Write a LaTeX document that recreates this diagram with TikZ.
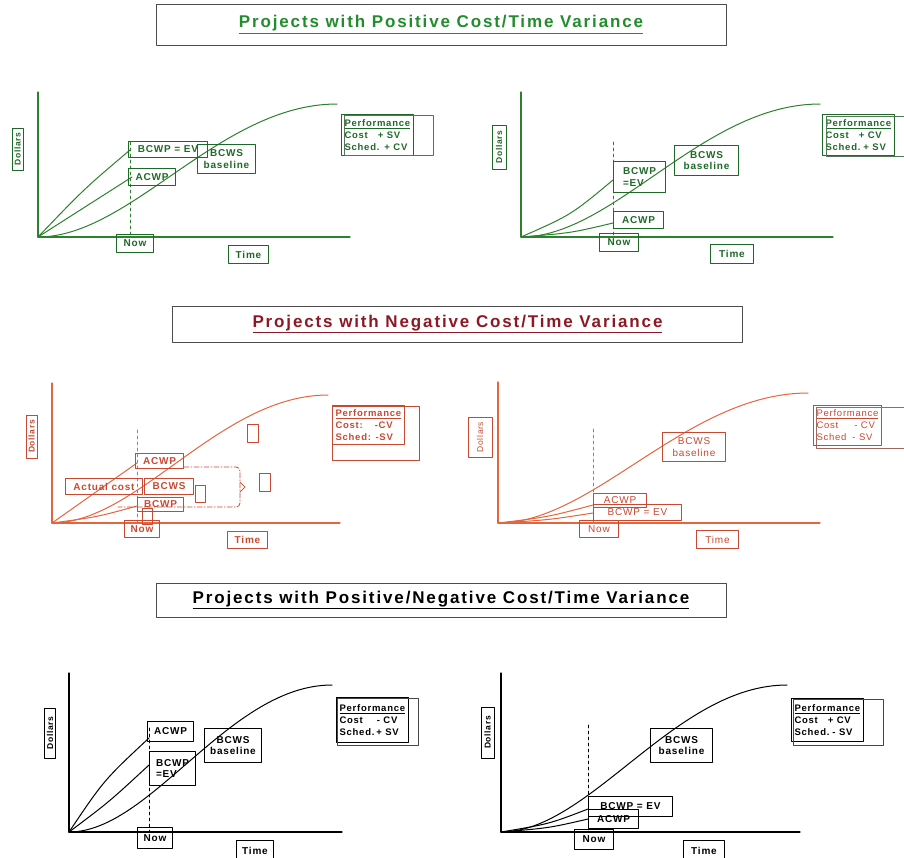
\documentclass[tikz,border=0pt]{standalone}
\usepackage{fontspec}
\setmainfont{Liberation Sans}
\newfontfamily\lblfont[LetterSpace=8]{Liberation Sans}
\newfontfamily\ttlfont[LetterSpace=11]{Liberation Sans}
\definecolor{grn}{RGB}{45,128,45}
\definecolor{grnb}{RGB}{30,105,40}
\definecolor{grnt}{RGB}{35,140,45}
\definecolor{org}{RGB}{228,100,60}
\definecolor{orgb}{RGB}{200,72,50}
\definecolor{redt}{RGB}{140,25,35}
\def\lblwt{\bfseries}
\tikzset{
	ax/.style={draw=ln, line width=1.2pt},
	crv/.style={draw=ln, line width=1pt},
	nowln/.style={draw=ln, dashed, line width=0.8pt},
	lbl/.style={draw=bx, line width=1pt, text=bx, inner sep=0pt, anchor=north west, font=\lblfont\lblwt\fontsize{10}{11.5}\selectfont},
	dol/.style={lbl, anchor=center, rotate=90, font=\lblfont\lblwt\fontsize{8.5}{9}\selectfont},
	perf/.style={lbl, align=left, inner xsep=3pt, font=\lblfont\lblwt\fontsize{9.5}{12}\selectfont},
	shd/.style={draw=bx!45!gray, line width=0.8pt},
	ttl/.style={draw=black!70, line width=1pt, minimum width=570, font=\ttlfont\bfseries\fontsize{17}{20}\selectfont},
	gly/.style={draw=bx, line width=0.7pt},
	brk/.style={draw=bx, dash pattern=on 5pt off 2pt on 1pt off 2pt, line width=0.8pt, rounded corners=4pt}
}

\begin{document}
\begin{tikzpicture}[x=1pt, y=-1pt, line join=round, line cap=round]
	\useasboundingbox (0,0) rectangle (904,857);
	\clip (0,0) rectangle (904,857);
	% titles
	\node[ttl, text=grnt, minimum height=41] (t1) at (441,24.5) {\underline{Projects with Positive Cost/Time Variance}};
	\node[ttl, text=redt, minimum height=36] (t2) at (457.5,324) {\underline{Projects with Negative Cost/Time Variance}};
	\node[ttl, text=black, minimum height=34] (t3) at (441,600) {\underline{Projects with Positive/Negative Cost/Time Variance}};
	
	% ---- positive, left
	\begin{scope}
		\colorlet{ln}{grn}\colorlet{bx}{grnb}
		\coordinate (o1) at (38,237); \coordinate (y1) at (38,92); \coordinate (x1) at (350,237);
		\coordinate (s1) at (337,104); \coordinate (p1) at (130,150); \coordinate (a1) at (132,177);
		\coordinate (n1) at (130,142);
		\draw[ax] (y1) -- (o1) -- (x1);
		\draw[crv] (o1) .. controls +(93,0) and +(-117,0) .. (s1);
		\draw[crv] (o1) .. controls +(46,-48) .. (p1);
		\draw[crv] (o1) .. controls +(47,-30) .. (a1);
		\draw[nowln] (n1) -- (n1 |- o1);
		\node[lbl, minimum width=79, minimum height=16] (bcwp1) at (128,141) {BCWP = EV};
		\node[lbl, minimum width=58, minimum height=29, align=center] (bcws1) at (197,144) {BCWS\\baseline};
		\node[lbl, minimum width=47, minimum height=17] (acwp1) at (128,168) {ACWP};
		\node[lbl, minimum width=37, minimum height=18] (now1) at (116,234) {Now};
		\node[lbl, minimum width=40, minimum height=18] (time1) at (228,245) {Time};
		\node[dol, minimum width=42, minimum height=11] (dol1) at (17.5,149) {Dollars};
		\node[perf, minimum height=41] (perf1) at (341,114) {\underline{Performance}\\Cost\hspace{10pt}+ SV\\Sched.\hspace{5pt}+ CV};
		\draw[shd] ([shift={(3,1)}]perf1.north west) rectangle ++(89,40);
	\end{scope}
	
	% ---- positive, right
	\begin{scope}
		\colorlet{ln}{grn}\colorlet{bx}{grnb}
		\coordinate (o2) at (521,237); \coordinate (y2) at (521,92); \coordinate (x2) at (833,237);
		\coordinate (s2) at (820,104); \coordinate (p2) at (613,180); \coordinate (a2) at (613,223);
		\coordinate (n2) at (613,142);
		\draw[ax] (y2) -- (o2) -- (x2);
		\draw[crv] (o2) .. controls +(93,0) and +(-117,0) .. (s2);
		\draw[crv] (o2) .. controls +(50,-22) .. (p2);
		\draw[crv] (o2) .. controls +(50,-4) .. (a2);
		\draw[nowln] (n2) -- (n2 |- o2);
		\node[lbl, minimum width=52, minimum height=31, align=left] (bcwp2) at (613,161) {BCWP\\=EV};
		\node[lbl, minimum width=64, minimum height=30, align=center] (bcws2) at (674,145) {BCWS\\baseline};
		\node[lbl, minimum width=50, minimum height=17] (acwp2) at (613,211) {ACWP};
		\node[lbl, minimum width=39, minimum height=18] (now2) at (599,233) {Now};
		\node[lbl, minimum width=43, minimum height=19] (time2) at (710,244) {Time};
		\node[dol, minimum width=44, minimum height=14] (dol2) at (499,147) {Dollars};
		\node[perf, minimum height=41] (perf2) at (822,114) {\underline{Performance}\\Cost\hspace{10pt}+ CV\\Sched.\hspace{3pt}+ SV};
		\draw[shd] ([shift={(4,2)}]perf2.north west) rectangle ++(89,40);
	\end{scope}
	
	% ---- negative, left
	\begin{scope}
		\colorlet{ln}{org}\colorlet{bx}{orgb}
		\coordinate (o3) at (52,523); \coordinate (y3) at (52,383); \coordinate (x3) at (340,523);
		\coordinate (s3) at (328,395); \coordinate (a3) at (137,463); \coordinate (p3) at (137,506);
		\coordinate (n3) at (137,430);
		\draw[ax] (y3) -- (o3) -- (x3);
		\draw[crv] (o3) .. controls +(86,0) and +(-108,0) .. (s3);
		\draw[crv] (o3) .. controls +(42,-30) .. (a3);
		\draw[crv] (o3) .. controls +(45,-6) .. (p3);
		\draw[nowln] (n3) -- (n3 |- o3);
		\node[lbl, minimum width=48, minimum height=15] (acwp3) at (135,453) {ACWP};
		\node[lbl, minimum width=77, minimum height=16] (act3) at (65,478) {Actual cost};
		\node[lbl, minimum width=49, minimum height=16] (bcws3) at (144,478) {BCWS};
		\node[lbl, minimum width=46, minimum height=14] (bcwp3) at (137,497) {BCWP};
		\node[lbl, minimum width=35, minimum height=17] (now3) at (124,520) {Now};
		\node[lbl, minimum width=40, minimum height=17] (time3) at (227,531) {Time};
		\node[dol, minimum width=43, minimum height=11] (dol3) at (31.5,436.5) {Dollars};
		\node[perf, minimum height=39] (perf3) at (332,405) {\underline{Performance}\\Cost:\hspace{12pt}-CV\\Sched: -SV};
		\draw[shd, draw=bx] ([shift={(0,1)}]perf3.north west) rectangle ++(87,54);
		\draw[brk] (acwp3.east |- 0,467) -- (240,467) -- (240,507) -- (118,507);
		\draw[gly] (240,482) -- (245,487) -- (240,492);
		\draw[gly] (247,424) rectangle (258,442);
		\draw[gly] (259,473) rectangle (270,491);
		\draw[gly] (195,485) rectangle (205,502);
		\draw[gly] (142,508) rectangle (152,524);
	\end{scope}
	
	% ---- negative, right
	\begin{scope}
		\colorlet{ln}{org}\colorlet{bx}{orgb}\def\lblwt{\mdseries}
		\coordinate (o4) at (498,523); \coordinate (y4) at (498,382); \coordinate (x4) at (820,523);
		\coordinate (s4) at (808,393); \coordinate (a4) at (593,505); \coordinate (p4) at (593,513);
		\coordinate (n4) at (593,429);
		\draw[ax] (y4) -- (o4) -- (x4);
		\draw[crv] (o4) .. controls +(96,0) and +(-121,0) .. (s4);
		\draw[crv] (o4) .. controls +(50,-6) .. (a4);
		\draw[crv] (o4) .. controls +(50,-3) .. (p4);
		\draw[nowln] (n4) -- (n4 |- o4);
		\node[lbl, minimum width=53, minimum height=14] (acwp4) at (593,493) {ACWP};
		\node[lbl, minimum width=88, minimum height=16] (bcwp4) at (593,504) {BCWP = EV};
		\node[lbl, minimum width=63, minimum height=29, align=center] (bcws4) at (662,432) {BCWS\\baseline};
		\node[lbl, minimum width=39, minimum height=17] (now4) at (579,520) {Now};
		\node[lbl, minimum width=42, minimum height=18] (time4) at (696,530) {Time};
		\node[dol, minimum width=40, minimum height=24] (dol4) at (480,437) {Dollars};
		\node[perf, minimum height=40] (perf4) at (813,405) {\underline{Performance}\\Cost\hspace{16pt}- CV\\Sched\hspace{6pt}- SV};
		\draw[shd] ([shift={(3,2)}]perf4.north west) rectangle ++(89,41);
	\end{scope}
	
	% ---- mixed, left
	\begin{scope}
		\colorlet{ln}{black}\colorlet{bx}{black}
		\coordinate (o5) at (69,832); \coordinate (y5) at (69,673); \coordinate (x5) at (342,832);
		\coordinate (s5) at (332,685); \coordinate (a5) at (149,738); \coordinate (p5) at (149,765);
		\coordinate (n5) at (149,728);
		\draw[ax] (y5) -- (o5) -- (x5);
		\draw[crv] (o5) .. controls +(82,0) and +(-103,0) .. (s5);
		\draw[crv] (o5) .. controls +(35,-52) .. (a5);
		\draw[crv] (o5) .. controls +(40,-30) .. (p5);
		\draw[nowln] (n5) -- (n5 |- o5);
		\node[lbl, minimum width=46, minimum height=20] (acwp5) at (147,721) {ACWP};
		\node[lbl, minimum width=46, minimum height=34, align=left] (bcwp5) at (149,751) {BCWP\\=EV};
		\node[lbl, minimum width=57, minimum height=34, align=center] (bcws5) at (204,728) {BCWS\\baseline};
		\node[lbl, minimum width=35, minimum height=21] (now5) at (137,827) {Now};
		\node[lbl, minimum width=37, minimum height=21] (time5) at (236,840) {Time};
		\node[dol, minimum width=50, minimum height=11] (dol5) at (50,733) {Dollars};
		\node[perf, minimum height=45] (perf5) at (336,697) {\underline{Performance}\\Cost\hspace{14pt}- CV\\Sched.\hspace{2pt}+ SV};
		\draw[shd] ([shift={(1,1)}]perf5.north west) rectangle ++(81,47);
	\end{scope}
	
	% ---- mixed, right
	\begin{scope}
		\colorlet{ln}{black}\colorlet{bx}{black}
		\coordinate (o6) at (501,832); \coordinate (y6) at (501,673); \coordinate (x6) at (800,832);
		\coordinate (s6) at (787,685); \coordinate (p6) at (588,809); \coordinate (a6) at (588,819);
		\coordinate (n6) at (588,725);
		\draw[ax] (y6) -- (o6) -- (x6);
		\draw[crv] (o6) .. controls +(89,0) and +(-112,0) .. (s6);
		\draw[crv] (o6) .. controls +(48,-8) .. (p6);
		\draw[crv] (o6) .. controls +(48,-4) .. (a6);
		\draw[nowln] (n6) -- (n6 |- o6);
		\node[lbl, minimum width=84, minimum height=20] (bcwp6) at (588,796) {BCWP = EV};
		\node[lbl, minimum width=50, minimum height=19] (acwp6) at (588,809) {ACWP};
		\node[lbl, minimum width=62, minimum height=34, align=center] (bcws6) at (650,728) {BCWS\\baseline};
		\node[lbl, minimum width=39, minimum height=20] (now6) at (574,829) {Now};
		\node[lbl, minimum width=41, minimum height=21] (time6) at (683,840) {Time};
		\node[dol, minimum width=51, minimum height=13] (dol6) at (487.5,732.5) {Dollars};
		\node[perf, minimum height=43] (perf6) at (791,698) {\underline{Performance}\\Cost\hspace{10pt}+ CV\\Sched.\hspace{3pt}- SV};
		\draw[shd] ([shift={(2,1)}]perf6.north west) rectangle ++(90,46);
	\end{scope}
\end{tikzpicture}
\end{document}
